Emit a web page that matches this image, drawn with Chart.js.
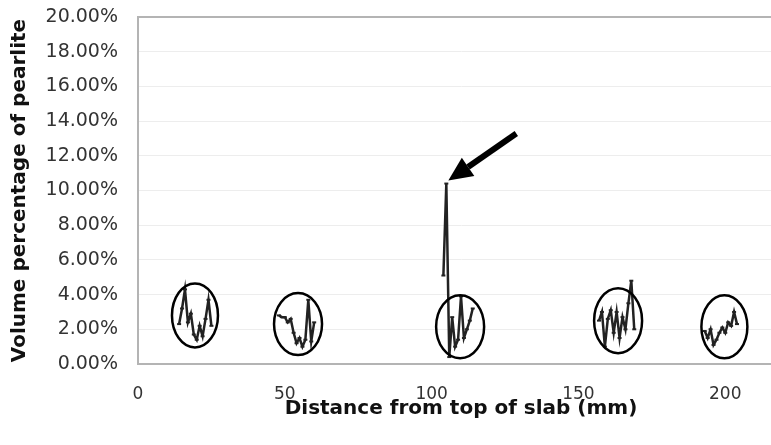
<!DOCTYPE html>
<html>
<head>
<meta charset="utf-8">
<script src="https://cdn.jsdelivr.net/npm/chart.js@4.4.1/dist/chart.umd.min.js"></script>
<style>
  html, body { margin: 0; padding: 0; background: #fff; overflow: hidden; }
  #wrap { width: 790px; height: 445px; }
</style>
</head>
<body>
<div id="wrap"><canvas id="chart"></canvas></div>
<script>
// distance from top of slab (mm) and volume % of pearlite, one pair per sampled zone
const dist1 = [14, 15, 16, 17, 18, 19, 20, 21, 22, 23, 24, 25];
const vol1  = [2.3, 3.2, 4.3, 2.4, 2.9, 1.7, 1.4, 2.2, 1.6, 2.6, 3.7, 2.2];

const dist2 = [48, 49, 50, 51, 52, 53, 54, 55, 56, 57, 58, 59, 60];
const vol2  = [2.8, 2.7, 2.7, 2.4, 2.6, 1.8, 1.2, 1.5, 1.0, 1.4, 3.7, 1.3, 2.4];

const dist3 = [104, 105, 106, 107, 108, 109, 110, 111, 112, 113, 114];
const vol3  = [5.1, 10.4, 0.4, 2.7, 1.0, 1.4, 3.9, 1.5, 2.0, 2.5, 3.2];

const dist4 = [157, 158, 159, 160, 161, 162, 163, 164, 165, 166, 167, 168, 169];
const vol4  = [2.5, 3.0, 1.0, 2.6, 3.1, 1.8, 3.0, 1.5, 2.7, 2.0, 3.5, 4.8, 2.0];

const dist5 = [193, 194, 195, 196, 197, 198, 199, 200, 201, 202, 203, 204];
const vol5  = [1.9, 1.5, 2.0, 1.1, 1.4, 1.8, 2.1, 1.8, 2.4, 2.2, 3.0, 2.3];

const xTicks = [0, 50, 100, 150, 200];
const yTicks = [0, 2, 4, 6, 8, 10, 12, 14, 16, 18, 20];

const zones = [[dist1, vol1], [dist2, vol2], [dist3, vol3], [dist4, vol4], [dist5, vol5]];

const datasets = zones.map(([d, v]) => ({
  data: d.map((x, i) => ({ x: x, y: v[i] })),
  showLine: true,
  borderColor: '#222',
  borderWidth: 2.5,
  pointStyle: 'line',
  pointRadius: 2,
  pointBorderWidth: 2,
  pointBorderColor: '#222',
  tension: 0
}));

// hand-drawn style marks: ellipses round each zone, arrow to the peak
const markup = {
  id: 'markup',
  afterDatasetsDraw(chart, args, opts) {
    const { ctx, scales: { x, y } } = chart;
    ctx.save();
    ctx.strokeStyle = '#000';
    ctx.lineWidth = 2.5;
    opts.rings.forEach(r => {
      ctx.beginPath();
      ctx.ellipse(x.getPixelForValue(r.x), y.getPixelForValue(r.y), r.rx, r.ry, 0, 0, Math.PI * 2);
      ctx.stroke();
    });
    // arrow pointing to the highest reading
    const peak = vol3.indexOf(Math.max(...vol3));
    const tx = x.getPixelForValue(dist3[peak]) + 2;
    const ty = y.getPixelForValue(vol3[peak]) - 3;
    const sx = tx + 68, sy = ty - 47;
    const ang = Math.atan2(ty - sy, tx - sx);
    const hl = 24, hw = 11;
    const bx = tx - hl * Math.cos(ang), by = ty - hl * Math.sin(ang);
    ctx.lineWidth = 6;
    ctx.beginPath();
    ctx.moveTo(sx, sy);
    ctx.lineTo(bx, by);
    ctx.stroke();
    ctx.fillStyle = '#000';
    ctx.beginPath();
    ctx.moveTo(tx, ty);
    ctx.lineTo(bx + hw * Math.sin(ang), by - hw * Math.cos(ang));
    ctx.lineTo(bx - hw * Math.sin(ang), by + hw * Math.cos(ang));
    ctx.closePath();
    ctx.fill();
    ctx.restore();
  }
};

new Chart(document.getElementById('chart'), {
  type: 'scatter',
  data: { datasets: datasets },
  plugins: [markup],
  options: {
    responsive: true,
    maintainAspectRatio: false,
    animation: false,
    layout: { padding: { top: 17, right: 5, left: 0, bottom: 0 } },
    plugins: {
      legend: { display: false },
      tooltip: { enabled: false },
      markup: {
        rings: [
          { x: 19.4, y: 2.8, rx: 23, ry: 32 },
          { x: 54.5, y: 2.3, rx: 24, ry: 31 },
          { x: 109.7, y: 2.15, rx: 24, ry: 31.5 },
          { x: 163.5, y: 2.5, rx: 24, ry: 32.5 },
          { x: 199.7, y: 2.15, rx: 23, ry: 31.5 }
        ]
      }
    },
    scales: {
      x: {
        type: 'linear',
        min: 0,
        max: 220,
        afterFit: s => { s.height = 81; s.paddingLeft = 0; s.paddingRight = 0; },
        afterBuildTicks: s => { s.ticks = xTicks.map(v => ({ value: v })); },
        grid: { display: false, drawTicks: false },
        border: { display: true, color: '#b4b4b4', width: 2 },
        ticks: {
          padding: 20,
          color: '#333',
          font: { family: 'DejaVu Sans', size: 17 }
        },
        title: {
          display: true,
          text: 'Distance from top of slab (mm)',
          color: '#111',
          font: { family: 'DejaVu Sans', size: 20, weight: 'bold' },
          padding: 24
        }
      },
      y: {
        min: 0,
        max: 20,
        afterFit: s => { s.width = 138; s.paddingTop = 0; s.paddingBottom = 0; },
        afterBuildTicks: s => { s.ticks = yTicks.map(v => ({ value: v })); },
        grid: {
          drawTicks: false,
          color: c => c.tick.value === 20 ? '#b4b4b4' : '#ededed',
          lineWidth: c => c.tick.value === 20 ? 2 : 1
        },
        border: { display: true, color: '#b4b4b4', width: 2 },
        ticks: {
          padding: 20,
          color: '#333',
          font: { family: 'DejaVu Sans', size: 19 },
          callback: v => v.toFixed(2) + '%'
        },
        title: {
          display: true,
          text: 'Volume percentage of pearlite',
          color: '#111',
          font: { family: 'DejaVu Sans', size: 20, weight: 'bold' },
          padding: 8
        }
      }
    }
  }
});
</script>
</body>
</html>
